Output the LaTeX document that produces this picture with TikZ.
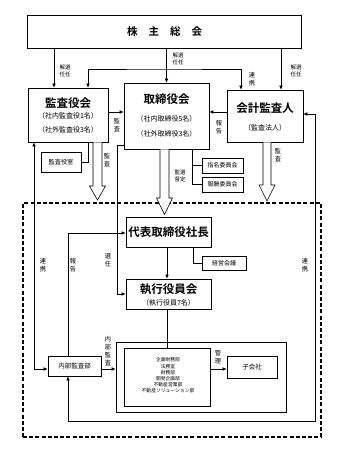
\documentclass[tikz,border=0pt]{standalone}
\usepackage{fontspec}
\setmainfont{Noto Sans CJK JP}[BoldFont={Noto Sans CJK JP Bold}]
\usetikzlibrary{arrows.meta,calc}
\newcommand\fsz[2]{\fontsize{#1}{#2}\selectfont}
\newcommand\harrowshape[6]{% x, ytop, yheadtop, ytip, shaft half, head half
  \draw[hollow] (#1-#5,#2) -- (#1-#5,#3) -- (#1-#6,#3) -- (#1,#4) -- (#1+#6,#3) -- (#1+#5,#3) -- (#1+#5,#2);
}
\begin{document}
\begin{tikzpicture}[x=1pt,y=-1pt,
  box/.style={draw, line width=0.7pt, inner sep=0pt, fill=white},
  tx/.style={inner sep=0pt, align=center},
  lab/.style={inner sep=0pt, align=center, font=\fsz{5.5}{7}},
  vl/.style={inner sep=0pt, align=center, font=\fsz{6.2}{8}},
  ln/.style={line width=0.6pt},
  arr/.style={line width=0.6pt, -{Latex[length=4pt,width=3.6pt]}},
  arrb/.style={line width=0.6pt, {Latex[length=4pt,width=3.6pt]}-{Latex[length=4pt,width=3.6pt]}},
  hollow/.style={line width=0.6pt, fill=white, draw=black},
  dashbox/.style={draw, line width=1.2pt, dash pattern=on 4pt off 2.2pt}
]
\useasboundingbox (0,0) rectangle (338,455);
\fill[white] (0,0) rectangle (338,455);

% dashed frame
\node[dashbox, minimum width=298pt, minimum height=234pt, inner sep=0pt] (frame) at (172,320) {};

% boxes
\node[box, minimum width=274pt, minimum height=33.3pt] (soukai) at (164.7,31.7) {};
\node[tx, font=\bfseries\fsz{10.5}{12}] (soukaiT) at (164.7,32) {株\hspace{11pt}主\hspace{11pt}総\hspace{11pt}会};

\node[box, minimum width=80pt, minimum height=54pt] (kansa) at (68,115) {};
\node[tx, font=\bfseries\fsz{11.5}{13}] (kansaT) at (68,103) {監査役会};
\node[tx, font=\fsz{7}{8}] (kansaS1) at (68,116) {（社内監査役1名）};
\node[tx, font=\fsz{7}{8}] (kansaS2) at (68,129.5) {（社外監査役3名）};

\node[box, minimum width=85pt, minimum height=66pt] (tori) at (166.5,116) {};
\node[tx, font=\bfseries\fsz{11.5}{13}] (toriT) at (166.5,99.5) {取締役会};
\node[tx, font=\fsz{7}{8}] (toriS1) at (166.5,119) {（社内取締役5名）};
\node[tx, font=\fsz{7}{8}] (toriS2) at (166.5,133.5) {（社外取締役3名）};

\node[box, minimum width=76pt, minimum height=52pt] (kaikei) at (265,116) {};
\node[tx, font=\bfseries\fsz{11.5}{13}] (kaikeiT) at (265,108) {会計監査人};
\node[tx, font=\fsz{7}{8}] (kaikeiS) at (265,128) {（監査法人）};

\node[box, minimum width=40pt, minimum height=20pt] (shitsu) at (61,162) {};
\node[tx, font=\fsz{6.2}{7}] (shitsuT) at (61,162) {監査役室};

\node[box, minimum width=41pt, minimum height=15pt] (shimei) at (222.5,165.5) {};
\node[tx, font=\fsz{6}{7}] (shimeiT) at (222.5,165.5) {指名委員会};
\node[box, minimum width=41pt, minimum height=15pt] (houshu) at (222.5,184.5) {};
\node[tx, font=\fsz{6}{7}] (houshuT) at (222.5,184.5) {報酬委員会};

\node[box, minimum width=85pt, minimum height=30pt] (daihyo) at (168.5,232) {};
\node[tx, font=\bfseries\fsz{11.5}{13}] (daihyoT) at (168.5,232) {代表取締役社長};

\node[box, minimum width=44pt, minimum height=14pt] (keiei) at (224,263) {};
\node[tx, font=\fsz{6}{7}] (keieiT) at (224,263) {経営会議};

\node[box, minimum width=85pt, minimum height=30pt] (shikko) at (168.5,294) {};
\node[tx, font=\bfseries\fsz{11.5}{13}] (shikkoT) at (168.5,289) {執行役員会};
\node[tx, font=\fsz{7}{8}] (shikkoS) at (168.5,302.5) {（執行役員7名）};

\node[box, minimum width=53pt, minimum height=20pt] (naibu) at (74.5,366) {};
\node[tx, font=\fsz{6.5}{7}] (naibuT) at (74.5,366) {内部監査部};

\node[box, minimum width=170pt, minimum height=70pt] (outer) at (201,377) {};
\node[box, minimum width=86pt, minimum height=58pt] (inner) at (167,377) {};
\node[tx, font=\fsz{4.8}{6.2}] (depts) at (168,375.5) {企画財務部\\法務室\\財務部\\開発企画部\\不動産営業部\\不動産ソリューション部};

\node[box, minimum width=50pt, minimum height=22pt] (kogaisha) at (252,367) {};
\node[tx, font=\fsz{6.5}{7}] (kogaishaT) at (252,367) {子会社};

% hollow arrows
\harrowshape{97.5}{142.35}{186}{200}{4.5}{8}
\harrowshape{164.5}{149.35}{198}{214.5}{4.5}{8}
\harrowshape{267}{142.35}{185}{201}{4}{8}

% connectors from shareholders
\draw[arr] (soukai.south -| 54,0) -- (kansa.north -| 54,0);
\draw[arr] (soukai.south -| tori.north) -- (tori.north);
\draw[arr] (soukai.south -| 281,0) -- (kaikei.north -| 281,0);
\draw[arrb] (kansa.north -| 88,0) |- (164,69) -| (kaikei.north -| 241,0);

\draw[arr] (kansa.east |- 0,112) -- (tori.west |- 0,112);
\draw[arr] (kaikei.west |- 0,112) -- (tori.east |- 0,112);
\draw[ln] (kansa.south -| 88,0) |- (shitsu.east);
\draw[ln] (tori.south -| 192,0) |- (houshu.west);
\draw[ln] (tori.south -| 192,0) |- (shimei.west);

\draw[arr] (tori.west |- 0,145) -| (117,0 |- shikko.west) -- (shikko.west);
\draw[arr] (daihyo.south -| 167,0) -- (shikko.north -| 167,0);
\draw[ln] (daihyo.south -| 193,0) |- (keiei.west);

\draw[arrb] (kansa.south -| 34,0) |- (naibu.west |- 0,369);
\draw[arrb] (kaikei.east |- 0,114) -| (315,421) -| (naibu.south -| 68,0);
\draw[arr] (naibu.north -| 68,0) |- (daihyo.west |- 0,233);
\draw[arr] (naibu.east |- 0,369) -- (outer.west |- 0,369);
\draw[ln] (shikko.south -| 167,0) -- (inner.north -| 167,0);
\draw[arr] (inner.east |- 0,369) -- (kogaisha.west |- 0,369);

% labels
\node[lab] (l1) at (65,71) {解選\\任任};
\node[lab] (l2) at (178,59) {解選\\任任};
\node[lab] (l3) at (296,71) {解選\\任任};
\node[vl] (l4) at (252,79) {連\\携};
\node[vl] (l5) at (117,125) {監\\査};
\node[vl] (l6) at (219,127) {報\\告};
\node[vl] (l7) at (107,160) {監\\査};
\node[lab] (l8) at (180,176) {監選\\督定};
\node[vl] (l9) at (278,155) {監\\査};
\node[vl] (l10) at (43,265) {連\\携};
\node[vl] (l11) at (73,265) {報\\告};
\node[vl] (l12) at (108,260) {選\\任};
\node[vl] (l13) at (305,265) {連\\携};
\node[vl] (l14) at (108,351.5) {内\\部\\監\\査};
\node[vl] (l15) at (218,357.5) {管\\理};
\end{tikzpicture}
\end{document}
